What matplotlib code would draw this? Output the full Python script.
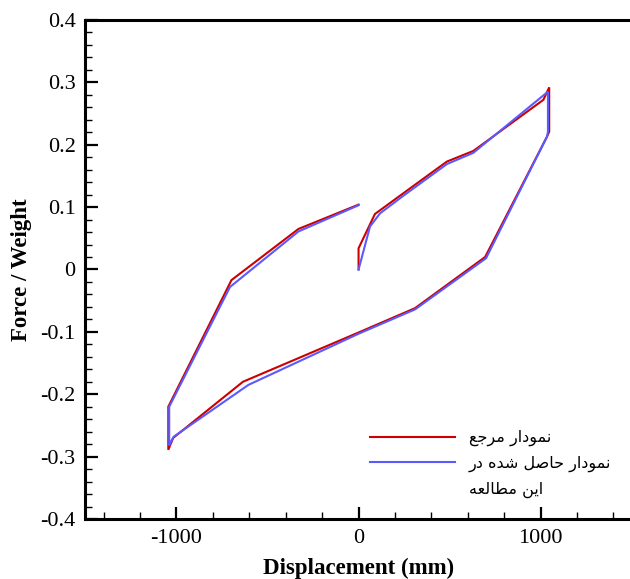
import matplotlib
matplotlib.use("Agg")
import matplotlib.pyplot as plt
from matplotlib.lines import Line2D

# reference curve (red)
ref_x = [0, 0, 90, 245, 485, 630, 1015, 1047, 1047, 1035, 695, 310, 0,
         -635, -1018, -1045, -1045, -698, -330, 0]
ref_y = [0, 0.034, 0.089, 0.122, 0.173, 0.190, 0.272, 0.292, 0.221, 0.213,
         0.020, -0.062, -0.101, -0.180, -0.270, -0.289, -0.220, -0.017, 0.065, 0.104]

# this study (blue)
study_x = [0, 63, 118, 245, 485, 630, 1040, 1040, 1035, 700, 310, 0,
           -605, -1015, -1038, -1040, -1040, -706, -330, 0]
study_y = [0, 0.069, 0.090, 0.118, 0.169, 0.187, 0.285, 0.221, 0.213, 0.018,
           -0.064, -0.103, -0.185, -0.268, -0.280, -0.282, -0.220, -0.028, 0.061, 0.103]

labels = ["نمودار مرجع", "نمودار حاصل شده در", "این مطالعه"]

# matplotlib has no RTL shaping, so map letters to presentation forms by hand
# (isolated, final, initial, medial)
FORMS = {
    'ا': (0xFE8D, 0xFE8E, None, None),
    'د': (0xFEA9, 0xFEAA, None, None),
    'ر': (0xFEAD, 0xFEAE, None, None),
    'و': (0xFEED, 0xFEEE, None, None),
    'ن': (0xFEE5, 0xFEE6, 0xFEE7, 0xFEE8),
    'م': (0xFEE1, 0xFEE2, 0xFEE3, 0xFEE4),
    'ج': (0xFE9D, 0xFE9E, 0xFE9F, 0xFEA0),
    'ع': (0xFEC9, 0xFECA, 0xFECB, 0xFECC),
    'ح': (0xFEA1, 0xFEA2, 0xFEA3, 0xFEA4),
    'ص': (0xFEB9, 0xFEBA, 0xFEBB, 0xFEBC),
    'ل': (0xFEDD, 0xFEDE, 0xFEDF, 0xFEE0),
    'ش': (0xFEB5, 0xFEB6, 0xFEB7, 0xFEB8),
    'ه': (0xFEE9, 0xFEEA, 0xFEEB, 0xFEEC),
    'ط': (0xFEC1, 0xFEC2, 0xFEC3, 0xFEC4),
    'ی': (0xFBFC, 0xFBFD, 0xFBFE, 0xFBFF),
}


def shape(text):
    out = []
    for i, ch in enumerate(text):
        f = FORMS.get(ch)
        if f is None:
            out.append(ch)
            continue
        prev = text[i - 1] if i > 0 else ''
        nxt = text[i + 1] if i + 1 < len(text) else ''
        join_prev = prev in FORMS and FORMS[prev][2] is not None
        join_next = f[2] is not None and nxt in FORMS
        if join_prev and join_next:
            code = f[3]
        elif join_prev:
            code = f[1]
        elif join_next:
            code = f[2]
        else:
            code = f[0]
        out.append(chr(code))
    return ''.join(reversed(out))


fig = plt.figure(figsize=(6.3, 5.79), dpi=100)
ax = fig.add_axes([0.1356, 0.1036, 0.8671, 0.8619])

ax.plot(ref_x, ref_y, color="#cc0000", lw=1.5, solid_joinstyle="miter")
ax.plot(study_x, study_y, color="#5a5aff", lw=1.5, solid_joinstyle="miter")

ax.set_xlim(-1500, 1500)
ax.set_ylim(-0.4, 0.4)
ax.set_xticks([-1000, 0, 1000])
ax.set_xticks(range(-1400, 1500, 200), minor=True)
ax.set_yticks([-0.4, -0.3, -0.2, -0.1, 0, 0.1, 0.2, 0.3, 0.4])
ax.set_yticks([i * 0.02 - 0.4 for i in range(41)], minor=True)
ax.set_yticklabels(["-0.4", "-0.3", "-0.2", "-0.1", "0", "0.1", "0.2", "0.3", "0.4"])
ax.set_xticklabels(["-1000", "0", "1000"])

ax.tick_params(which="both", direction="in", top=False, right=False)
ax.tick_params(which="major", length=9, width=1.6, pad=7)
ax.tick_params(which="minor", length=5, width=1.0)
for lab in ax.get_xticklabels() + ax.get_yticklabels():
    lab.set_fontfamily("Liberation Serif")
    lab.set_fontsize(16)

for s in ["left", "bottom", "top"]:
    ax.spines[s].set_linewidth(2.2)
ax.spines["right"].set_visible(False)

ax.set_xlabel("Displacement (mm)", family="Liberation Serif", weight="bold", fontsize=16.5, labelpad=7)
ax.set_ylabel("Force / Weight", family="Liberation Serif", weight="bold", fontsize=16.5, labelpad=6)

handles = [Line2D([], [], color="#cc0000", lw=1.5),
           Line2D([], [], color="#5a5aff", lw=1.5),
           Line2D([], [], color="none")]
ax.legend(handles, [shape(t) for t in labels], loc="upper left",
          bbox_to_anchor=(0.521, 0.178), frameon=False, borderpad=0,
          borderaxespad=0, handlelength=5.3, handletextpad=0.9,
          labelspacing=0.6, prop={"family": "DejaVu Sans", "size": 11.5})

fig.savefig("out.png", dpi=100)
